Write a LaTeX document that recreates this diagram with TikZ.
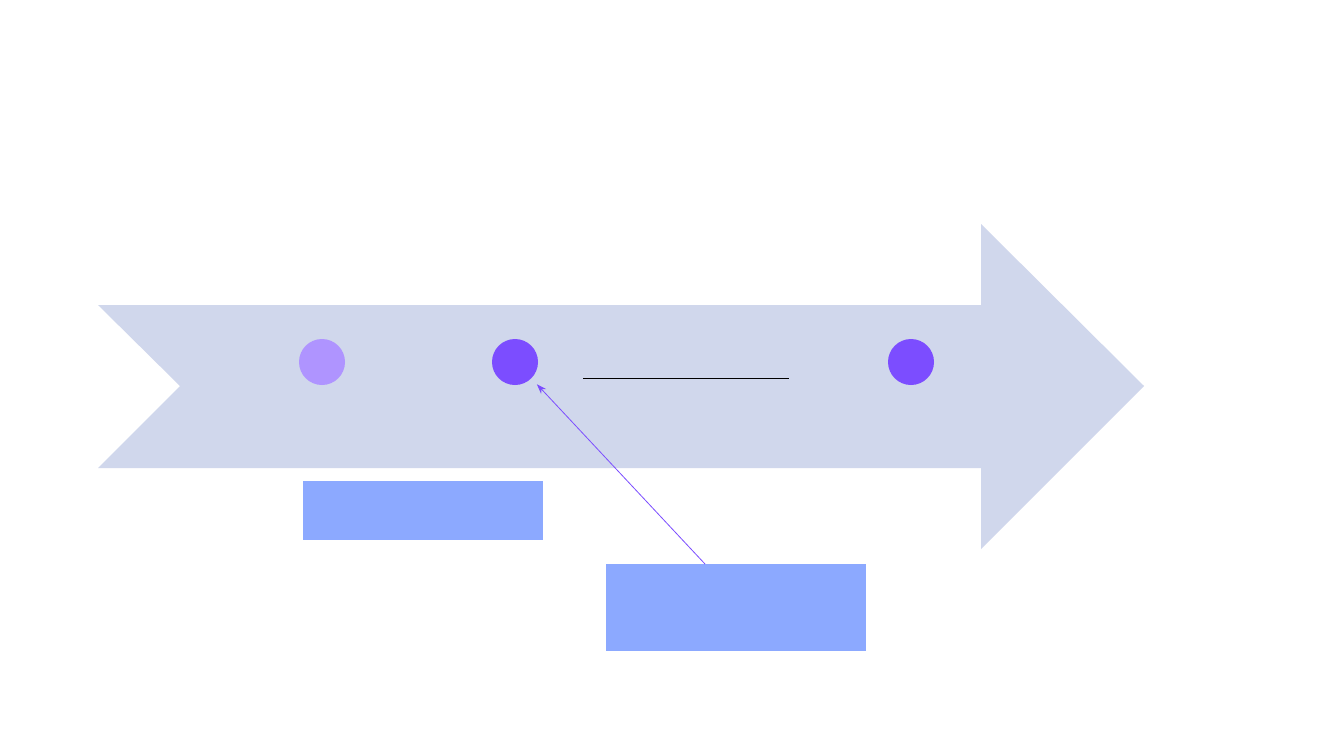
\documentclass[tikz,border=0pt]{standalone}
\usetikzlibrary{arrows.meta}
\definecolor{arrowbg}{HTML}{D0D7EC}
\definecolor{boxblue}{HTML}{8CA9FF}
\definecolor{dotdark}{HTML}{7C4DFF}
\definecolor{dotlight}{HTML}{AF94FF}
\begin{document}
\begin{tikzpicture}[x=1pt,y=-1pt,
  dot/.style={circle,minimum size=46pt,inner sep=0pt,draw=none},
  infobox/.style={rectangle,fill=boxblue,draw=none,inner sep=0pt,anchor=north west}]
\useasboundingbox (0,0) rectangle (1333,750);
\fill[white] (0,0) rectangle (1333,750);
\fill[arrowbg] (98,305) -- (981,305) -- (981,224) -- (1144,386) -- (981,549) -- (981,468) -- (98,468) -- (180,386) -- cycle;
\node[dot,fill=dotlight] (c1) at (322,362) {};
\node[dot,fill=dotdark] (c2) at (515,362) {};
\node[dot,fill=dotdark] (c3) at (911,362) {};
\coordinate (l1) at (583,378);
\coordinate (l2) at (789,378);
\draw[black,line width=1pt] (l1) -- (l2);
\node[infobox,minimum width=240pt,minimum height=59pt] (b1) at (303,481) {};
\node[infobox,minimum width=260pt,minimum height=87pt] (b2) at (606,564) {};
\coordinate (b2top) at (705,564);
\draw[dotdark,line width=0.8pt,shorten >=8pt,-{Stealth[length=10pt,width=7pt]}] (b2top) -- (c2.-45);
\end{tikzpicture}
\end{document}
